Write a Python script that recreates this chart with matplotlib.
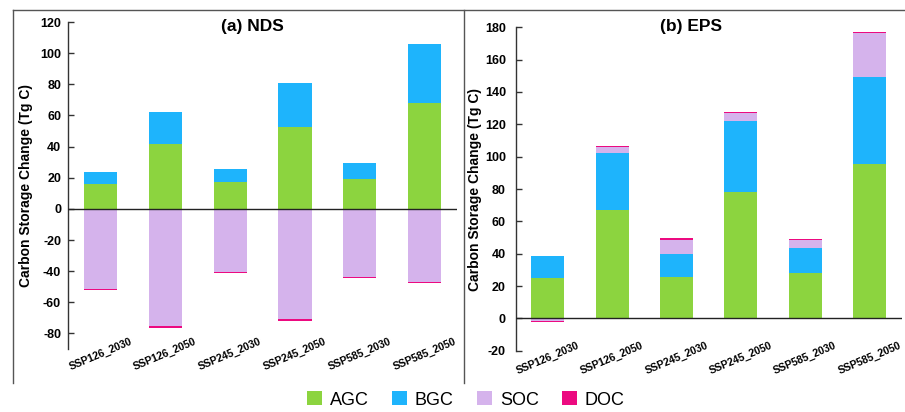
import matplotlib
matplotlib.use("Agg")
import matplotlib.pyplot as plt
import numpy as np
from matplotlib.patches import Patch
from matplotlib.lines import Line2D

plt.rcParams['font.family'] = ['Liberation Sans', 'DejaVu Sans']

categories = ["SSP126_2030", "SSP126_2050", "SSP245_2030", "SSP245_2050", "SSP585_2030", "SSP585_2050"]

# (a) NDS
nds_agc = [16.1, 41.9, 17.0, 52.7, 19.2, 68.2]
nds_bgc = [7.6, 20.5, 8.8, 28.1, 10.0, 37.4]
nds_soc = [-51.2, -75.4, -40.3, -70.9, -43.8, -46.8]
nds_doc = [-0.8, -0.8, -0.7, -0.8, -0.7, -0.7]

# (b) EPS
eps_agc = [24.9, 67.0, 25.8, 78.1, 28.0, 95.7]
eps_bgc = [13.4, 35.2, 14.2, 43.9, 15.3, 53.5]
eps_soc = [-1.8, 3.5, 8.7, 5.2, 5.1, 27.2]
eps_doc = [-0.7, 0.6, 0.7, 0.6, 0.6, 0.6]

series_names = ["AGC", "BGC", "SOC", "DOC"]
colors = ["#8CD43F", "#1EB4FC", "#D5B3EC", "#EC0A80"]

fig = plt.figure(figsize=(9.05, 4.12), dpi=100)

ax1 = fig.add_axes([0.0751, 0.1529, 0.430, 0.7937])
ax2 = fig.add_axes([0.5698, 0.1488, 0.4265, 0.7849])


def stacked(ax, vals, ypad):
    x = np.arange(len(categories))
    pos_base = np.zeros(len(categories))
    neg_base = np.zeros(len(categories))
    for v, c in zip(vals, colors):
        v = np.array(v, dtype=float)
        bottoms = np.where(v >= 0, pos_base, neg_base)
        ax.bar(x, v, width=0.51, bottom=bottoms, color=c, edgecolor='none', zorder=2)
        pos_base = np.where(v >= 0, pos_base + v, pos_base)
        neg_base = np.where(v < 0, neg_base + v, neg_base)
    ax.set_xlim(-0.5, 5.5)
    ax.axhline(0, color='#222222', lw=1.0, zorder=3)
    for s in ['top', 'right', 'bottom']:
        ax.spines[s].set_visible(False)
    ax.spines['left'].set_color('#333333')
    ax.spines['left'].set_linewidth(1.0)
    ax.tick_params(axis='y', direction='in', length=4, width=1, color='#333333',
                   labelsize=9, pad=ypad)
    ax.set_xticks(x)
    ax.tick_params(axis='x', length=0)
    ax.set_ylabel("Carbon Storage Change (Tg C)", fontsize=10, fontweight='bold')


stacked(ax1, [nds_agc, nds_bgc, nds_soc, nds_doc], 5)
ax1.set_ylim(-90, 120)
ax1.set_yticks(np.arange(-80, 121, 20))
ax1.set_yticklabels([str(v) for v in np.arange(-80, 121, 20)], fontweight='bold', fontsize=9)
ax1.set_xticklabels(categories, rotation=23, ha='center', fontsize=7.6, fontweight='bold')
ax1.tick_params(axis='x', pad=-9)
ax1.yaxis.set_label_coords(-0.09, 0.5)
ax1.text(0.473, 0.986, "(a) NDS", transform=ax1.transAxes, ha='center', va='center',
         fontsize=12.5, fontweight='bold')

stacked(ax2, [eps_agc, eps_bgc, eps_soc, eps_doc], 7)
ax2.set_ylim(-20, 180)
ax2.set_yticks(np.arange(-20, 181, 20))
ax2.set_yticklabels([str(v) for v in np.arange(-20, 181, 20)], fontweight='bold', fontsize=9)
ax2.set_xticklabels(categories, rotation=23, ha='center', fontsize=7.6, fontweight='bold')
ax2.tick_params(axis='x', pad=-7.5)
ax2.yaxis.set_label_coords(-0.087, 0.5)
ax2.text(0.453, 1.004, "(b) EPS", transform=ax2.transAxes, ha='center', va='center',
         fontsize=12.5, fontweight='bold')

# frame lines
W, H = 905.0, 412.0
fc = '#555555'
fig.add_artist(Line2D([13 / W, 1.0], [1 - 10 / H, 1 - 10 / H], color=fc, lw=1.0, transform=fig.transFigure))
fig.add_artist(Line2D([13 / W, 13 / W], [1 - 10 / H, 1 - 383 / H], color=fc, lw=1.0, transform=fig.transFigure))
fig.add_artist(Line2D([464 / W, 464 / W], [1 - 10 / H, 1 - 383 / H], color=fc, lw=1.0, transform=fig.transFigure))

handles = [Patch(facecolor=c, edgecolor='none', label=n) for n, c in zip(series_names, colors)]
fig.legend(handles=handles, loc='center', bbox_to_anchor=(0.515, 0.029), ncol=4, frameon=False,
           fontsize=13, handlelength=0.8, handleheight=0.8, handletextpad=0.45, columnspacing=1.3,
           borderpad=0.1)

fig.savefig("out.png", dpi=100)
